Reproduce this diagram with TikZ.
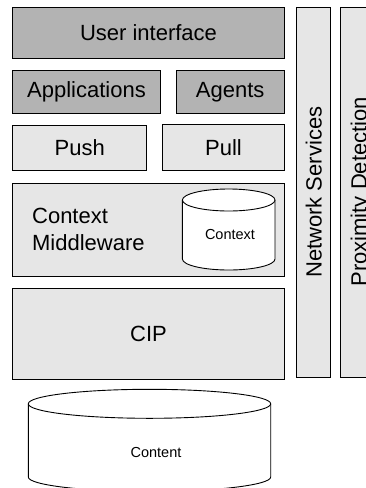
\documentclass[tikz,border=0pt]{standalone}
\usepackage{fontspec}
\setmainfont{Liberation Sans}
\usetikzlibrary{positioning}

\definecolor{layerdark}{RGB}{179,179,179}
\definecolor{layerlight}{RGB}{230,230,230}

\begin{document}
\begin{tikzpicture}
    [
        x=1pt, y=-1pt,
        layer/.style={rectangle, draw, line width=0.9pt, inner sep=0pt, font=\fontsize{22}{26.7}\selectfont},
        dark layer/.style={layer, fill=layerdark},
        light layer/.style={layer, fill=layerlight},
        store/.style={draw, line width=0.9pt, fill=white},
        store text/.style={font=\fontsize{14.5}{17}\selectfont}
    ]
    \useasboundingbox (0,0) rectangle (365,488);

    \node [dark layer, minimum width=271.6pt, minimum height=51pt] (ui) at (148.5, 32.8) {User interface};
    \node [dark layer, minimum width=147.6pt, minimum height=42.6pt] (apps) at (86.5, 92) {Applications};
    \node [dark layer, minimum width=108.3pt, minimum height=42.6pt] (agents) at (230.15, 92) {Agents};
    \node [light layer, minimum width=134pt, minimum height=45.4pt] (push) at (79.7, 148) {Push};
    \node [light layer, minimum width=121.6pt, minimum height=45.6pt] (pull) at (223.5, 147.3) {Pull};
    \node [light layer, minimum width=271.6pt, minimum height=93.4pt] (middleware) at (148.5, 230) {};
    \node [light layer, minimum width=271.6pt, minimum height=91pt] (cip) at (148.5, 333.8) {CIP};

    \node [light layer, rotate=90, minimum width=370pt, minimum height=34pt] (net) at (313.7, 192.3) {Network Services};
    \node [light layer, rotate=90, minimum width=370pt, minimum height=34pt] (prox) at (357, 192.3) {};
    \node [layer, draw=none, rotate=90, anchor=base] (proxtext) at (366.5, 191.7) {Proximity Detection};

    \node [layer, draw=none, anchor=base west, align=left] (mwtext) at (31.7, 250) {Context\\Middleware};

    % context store
    \draw [store] (182.4, 200) -- (182.4, 259) arc [start angle=180, end angle=0, x radius=46.3, y radius=11] -- (275, 200);
    \draw [store] (228.7, 200) ellipse [x radius=46.3, y radius=11];
    \node [store text] (ctx) at (230, 235) {Context};

    % content store
    \draw [store] (28.3, 403.8) -- (28.3, 477) arc [start angle=180, end angle=0, x radius=121.2, y radius=14.5] -- (270.7, 403.8);
    \draw [store] (149.5, 403.8) ellipse [x radius=121.2, y radius=14.5];
    \node [store text] (content) at (156, 452.7) {Content};
\end{tikzpicture}
\end{document}
